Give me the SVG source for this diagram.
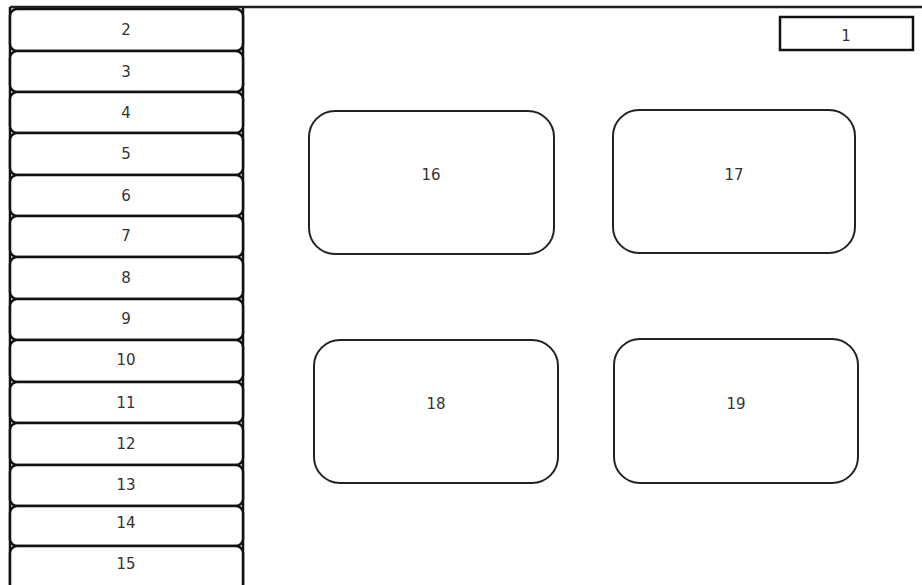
<svg xmlns="http://www.w3.org/2000/svg" width="922" height="585" viewBox="0 0 922 585">
<style>
.row{fill:#fff;stroke:#111;stroke-width:2.5}
.box{fill:#fff;stroke:#222;stroke-width:2}
text{font-family:"DejaVu Sans",sans-serif;font-size:15px;fill:#333;text-anchor:middle;dominant-baseline:central}
</style>
<rect width="922" height="585" fill="#fff"/>
<line x1="10" y1="7" x2="922" y2="7" stroke="#222" stroke-width="2.5"/>
<line x1="243" y1="7" x2="243" y2="585" stroke="#111" stroke-width="2.5"/>
<line x1="10" y1="7" x2="10" y2="585" stroke="#111" stroke-width="2.5"/>
<g id="n2"><rect class="row" x="10" y="9" width="233" height="42" rx="7"/><text x="126" y="30">2</text></g>
<g id="n3"><rect class="row" x="10" y="51" width="233" height="41" rx="7"/><text x="126" y="72">3</text></g>
<g id="n4"><rect class="row" x="10" y="92" width="233" height="41" rx="7"/><text x="126" y="113">4</text></g>
<g id="n5"><rect class="row" x="10" y="133" width="233" height="42" rx="7"/><text x="126" y="154">5</text></g>
<g id="n6"><rect class="row" x="10" y="175" width="233" height="41" rx="7"/><text x="126" y="196">6</text></g>
<g id="n7"><rect class="row" x="10" y="216" width="233" height="41" rx="7"/><text x="126" y="236">7</text></g>
<g id="n8"><rect class="row" x="10" y="257" width="233" height="42" rx="7"/><text x="126" y="278">8</text></g>
<g id="n9"><rect class="row" x="10" y="299" width="233" height="41" rx="7"/><text x="126" y="319">9</text></g>
<g id="n10"><rect class="row" x="10" y="340" width="233" height="42" rx="7"/><text x="126" y="360">10</text></g>
<g id="n11"><rect class="row" x="10" y="382" width="233" height="41" rx="7"/><text x="126" y="403">11</text></g>
<g id="n12"><rect class="row" x="10" y="423" width="233" height="42" rx="7"/><text x="126" y="444">12</text></g>
<g id="n13"><rect class="row" x="10" y="465" width="233" height="41" rx="7"/><text x="126" y="485">13</text></g>
<g id="n14"><rect class="row" x="10" y="506" width="233" height="40" rx="7"/><text x="126" y="523">14</text></g>
<g id="n15"><rect class="row" x="10" y="546" width="233" height="45" rx="7"/><text x="126" y="564">15</text></g>
<g id="n1"><rect x="780" y="17" width="133" height="33" fill="#fff" stroke="#111" stroke-width="2.5"/><text x="846" y="36">1</text></g>
<g id="n16"><rect class="box" x="309" y="111" width="245" height="143" rx="26"/><text x="431" y="175">16</text></g>
<g id="n17"><rect class="box" x="613" y="110" width="242" height="143" rx="26"/><text x="734" y="175">17</text></g>
<g id="n18"><rect class="box" x="314" y="340" width="244" height="143" rx="26"/><text x="436" y="404">18</text></g>
<g id="n19"><rect class="box" x="614" y="339" width="244" height="144" rx="26"/><text x="736" y="404">19</text></g>
<g id="connectors"></g>
</svg>
